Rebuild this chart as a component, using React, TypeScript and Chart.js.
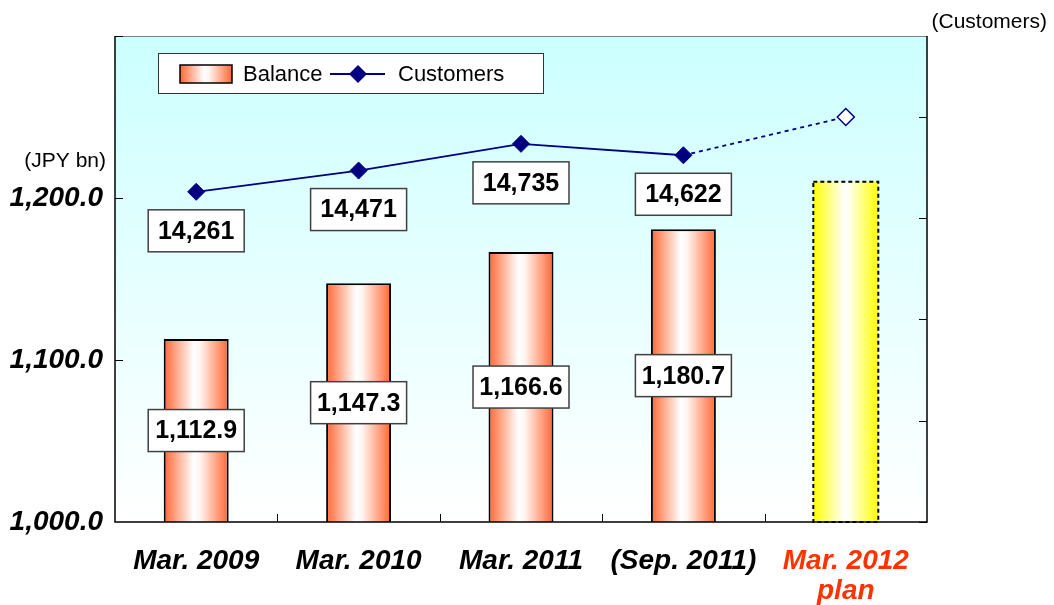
import React, { useEffect, useRef } from 'react';
import { Chart, registerables } from 'chart.js';

Chart.register(...registerables);

const categories: string[][] = [['Mar. 2009'], ['Mar. 2010'], ['Mar. 2011'], ['(Sep. 2011)'], ['Mar. 2012', 'plan']];
const balance = [1112.9, 1147.3, 1166.6, 1180.7, 1210];
const customers = [14261, 14471, 14735, 14622, 15000];
const balanceLabels = ['1,112.9', '1,147.3', '1,166.6', '1,180.7', ''];
const customerLabels = ['14,261', '14,471', '14,735', '14,622', ''];
const leftTickLabels: Record<number, string> = { 1000: '1,000.0', 1100: '1,100.0', 1200: '1,200.0' };
const rightTickLabels: Record<number, string> = { 14000: '14,000', 15000: '15,000' };
const leftTickValues = [1100, 1200, 1300];
const rightTickValues = [11000, 12000, 13000, 14000, 15000];

const FONT = '"Liberation Sans", Arial, sans-serif';
const NAVY = '#000080';
const PLAN_RED = '#FF3300';

function barGradient(chart: any, index: number, plan: boolean) {
  const area = chart.chartArea;
  if (!area || index === undefined) return plan ? '#FFFF00' : '#FF6633';
  const xs = chart.scales.x;
  const cx = xs.getPixelForValue(index);
  const w = ((area.right - area.left) / categories.length) * 0.4;
  const g = chart.ctx.createLinearGradient(cx - w / 2, 0, cx + w / 2, 0);
  if (plan) {
    g.addColorStop(0, '#FFFF00');
    g.addColorStop(0.48, '#FFFFFF');
    g.addColorStop(0.55, '#FFFFF0');
    g.addColorStop(1, '#FFFF00');
  } else {
    g.addColorStop(0, '#FF6633');
    g.addColorStop(0.46, '#FFFFFF');
    g.addColorStop(0.56, '#FFF4F0');
    g.addColorStop(1, '#FF6633');
  }
  return g;
}

function drawBox(ctx: CanvasRenderingContext2D, text: string, cx: number, cy: number) {
  ctx.font = `bold 25px ${FONT}`;
  const tw = ctx.measureText(text).width;
  const w = Math.max(tw + 10, 96);
  const h = 42;
  ctx.fillStyle = '#FFFFFF';
  ctx.fillRect(cx - w / 2, cy - h / 2, w, h);
  ctx.strokeStyle = '#404040';
  ctx.lineWidth = 1.5;
  ctx.setLineDash([]);
  ctx.strokeRect(cx - w / 2, cy - h / 2, w, h);
  ctx.fillStyle = '#000000';
  ctx.textAlign = 'center';
  ctx.textBaseline = 'middle';
  ctx.fillText(text, cx, cy + 1);
}

const decorPlugin = {
  id: 'decor',
  beforeDraw(chart: any) {
    const { ctx, chartArea: a } = chart;
    ctx.save();
    ctx.fillStyle = '#FFFFFF';
    ctx.fillRect(0, 0, chart.width, chart.height);
    const g = ctx.createLinearGradient(0, a.top, 0, a.bottom);
    g.addColorStop(0, '#CCFFFF');
    g.addColorStop(1, '#FFFFFF');
    ctx.fillStyle = g;
    ctx.fillRect(a.left, a.top, a.right - a.left, a.bottom - a.top);
    ctx.restore();
  },
  afterDatasetsDraw(chart: any) {
    const { ctx, chartArea: a } = chart;
    const xs = chart.scales.x;
    const y = chart.scales.y;
    const y1 = chart.scales.y1;
    ctx.save();

    // plan bar dashed border
    const barMeta = chart.getDatasetMeta(1);
    const pb = barMeta.data[4].getProps(['x', 'y', 'base', 'width'], true);
    const pbBase = Math.min(pb.base, a.bottom);
    ctx.strokeStyle = '#000000';
    ctx.lineWidth = 2;
    ctx.setLineDash([4, 3]);
    ctx.strokeRect(pb.x - pb.width / 2, pb.y, pb.width, pbBase - pb.y);
    ctx.setLineDash([]);

    // plot border and axes
    ctx.strokeStyle = '#808080';
    ctx.lineWidth = 1;
    ctx.beginPath();
    ctx.moveTo(a.left, a.top + 0.5);
    ctx.lineTo(a.right, a.top + 0.5);
    ctx.stroke();
    ctx.strokeStyle = '#000000';
    ctx.lineWidth = 1.5;
    ctx.beginPath();
    ctx.moveTo(a.left, a.top);
    ctx.lineTo(a.left, a.bottom);
    ctx.lineTo(a.right, a.bottom);
    ctx.lineTo(a.right, a.top);
    ctx.stroke();
    ctx.lineWidth = 1;
    ctx.beginPath();
    leftTickValues.forEach((v) => {
      const py = Math.round(y.getPixelForValue(v)) + 0.5;
      ctx.moveTo(a.left, py);
      ctx.lineTo(a.left + 8, py);
    });
    rightTickValues.forEach((v) => {
      const py = Math.round(y1.getPixelForValue(v)) + 0.5;
      ctx.moveTo(a.right, py);
      ctx.lineTo(a.right - 8, py);
    });
    for (let i = 1; i < categories.length; i++) {
      const px = Math.round((xs.getPixelForValue(i - 1) + xs.getPixelForValue(i)) / 2) + 0.5;
      ctx.moveTo(px, a.bottom);
      ctx.lineTo(px, a.bottom - 8);
    }
    ctx.stroke();

    // data label boxes
    barMeta.data.forEach((el: any, i: number) => {
      if (!balanceLabels[i]) return;
      const p = el.getProps(['x', 'y', 'base'], true);
      const base = Math.min(p.base, a.bottom);
      drawBox(ctx, balanceLabels[i], p.x, (p.y + base) / 2);
    });
    const lineMeta = chart.getDatasetMeta(0);
    lineMeta.data.forEach((el: any, i: number) => {
      if (!customerLabels[i]) return;
      const p = el.getProps(['x', 'y'], true);
      drawBox(ctx, customerLabels[i], p.x, p.y + 39);
    });

    // legend
    ctx.fillStyle = '#FFFFFF';
    ctx.fillRect(158, 53, 385, 40);
    ctx.strokeStyle = '#333333';
    ctx.lineWidth = 1;
    ctx.strokeRect(158.5, 53.5, 385, 40);
    const sg = ctx.createLinearGradient(180, 0, 232, 0);
    sg.addColorStop(0, '#FF6633');
    sg.addColorStop(0.46, '#FFFFFF');
    sg.addColorStop(0.56, '#FFF4F0');
    sg.addColorStop(1, '#FF6633');
    ctx.fillStyle = sg;
    ctx.fillRect(180, 65, 52, 18);
    ctx.strokeStyle = '#000000';
    ctx.lineWidth = 1.5;
    ctx.strokeRect(180, 65, 52, 18);
    ctx.fillStyle = '#000000';
    ctx.font = `22px ${FONT}`;
    ctx.textAlign = 'left';
    ctx.textBaseline = 'middle';
    ctx.fillText('Balance', 243, 75);
    ctx.strokeStyle = NAVY;
    ctx.lineWidth = 1.8;
    ctx.beginPath();
    ctx.moveTo(330, 74);
    ctx.lineTo(385, 74);
    ctx.stroke();
    ctx.fillStyle = NAVY;
    ctx.beginPath();
    ctx.moveTo(358 - 9, 74);
    ctx.lineTo(358, 74 - 9);
    ctx.lineTo(358 + 9, 74);
    ctx.lineTo(358, 74 + 9);
    ctx.closePath();
    ctx.fill();
    ctx.fillStyle = '#000000';
    ctx.fillText('Customers', 398, 75);

    // axis titles
    ctx.font = `21px ${FONT}`;
    ctx.textAlign = 'right';
    ctx.fillText('(JPY bn)', 106, 161);
    ctx.fillText('(Customers)', 1047, 22);
    ctx.restore();
  },
};

export default function App() {
  const ref = useRef<HTMLCanvasElement>(null);
  useEffect(() => {
    if (!ref.current) return;
    const chart = new Chart(ref.current, {
      type: 'bar',
      data: {
        labels: categories as any,
        datasets: [
          {
            type: 'line',
            label: 'Customers',
            data: customers,
            yAxisID: 'y1',
            order: 1,
            borderColor: NAVY,
            borderWidth: 1.8,
            pointStyle: 'rectRot',
            pointRadius: 8.5,
            pointBackgroundColor: [NAVY, NAVY, NAVY, NAVY, '#FFFFFF'],
            pointBorderColor: NAVY,
            pointBorderWidth: [1, 1, 1, 1, 1.5],
            fill: false,
            tension: 0,
            segment: {
              borderDash: (c: any) => (c.p1DataIndex === 4 ? [4, 4] : undefined),
            },
          } as any,
          {
            type: 'bar',
            label: 'Balance',
            data: balance,
            yAxisID: 'y',
            order: 2,
            barPercentage: 0.4,
            categoryPercentage: 1,
            backgroundColor: (c: any) => barGradient(c.chart, c.dataIndex, c.dataIndex === 4),
            borderColor: '#000000',
            borderWidth: (c: any) => (c.dataIndex === 4 ? 0 : 2),
            borderSkipped: false,
          } as any,
        ],
      },
      options: {
        responsive: false,
        animation: false,
        devicePixelRatio: 1,
        layout: { padding: { left: 0, right: 0, top: 36, bottom: 0 } },
        plugins: { legend: { display: false }, tooltip: { enabled: false } },
        scales: {
          x: {
            grid: { display: false, drawTicks: false },
            border: { display: false },
            ticks: {
              padding: 25,
              font: { family: FONT, size: 28, weight: 'bold', style: 'italic', lineHeight: 1.05 },
              color: (c: any) => (c.index === 4 ? PLAN_RED : '#000000'),
              maxRotation: 0,
              autoSkip: false,
            },
            afterFit: (s: any) => {
              s.height = 83;
              s.paddingLeft = 0;
              s.paddingRight = 0;
            },
          },
          y: {
            position: 'left',
            min: 1000,
            max: 1300,
            grid: { display: false, drawTicks: false },
            border: { display: false },
            ticks: {
              stepSize: 100,
              padding: 12,
              font: { family: FONT, size: 28, weight: 'bold', style: 'italic' },
              color: '#000000',
              callback: (v: any) => leftTickLabels[Number(v)] ?? '',
            },
            afterFit: (s: any) => {
              s.width = 115;
              s.paddingTop = 0;
              s.paddingBottom = 0;
            },
          },
          y1: {
            position: 'right',
            min: 11000,
            max: 15800,
            grid: { display: false, drawTicks: false },
            border: { display: false },
            ticks: {
              stepSize: 1000,
              padding: 28,
              font: { family: FONT, size: 27, weight: 'bold', style: 'italic' },
              color: NAVY,
              callback: (v: any) => rightTickLabels[Number(v)] ?? '',
            },
            afterFit: (s: any) => {
              s.width = 127;
              s.paddingTop = 0;
              s.paddingBottom = 0;
            },
          },
        },
      },
      plugins: [decorPlugin],
    });
    return () => chart.destroy();
  }, []);
  return (
    <div style={{ position: 'absolute', left: 0, top: 0, width: 1054, height: 605 }}>
      <canvas ref={ref} width={1054} height={605} style={{ display: 'block' }} />
    </div>
  );
}
